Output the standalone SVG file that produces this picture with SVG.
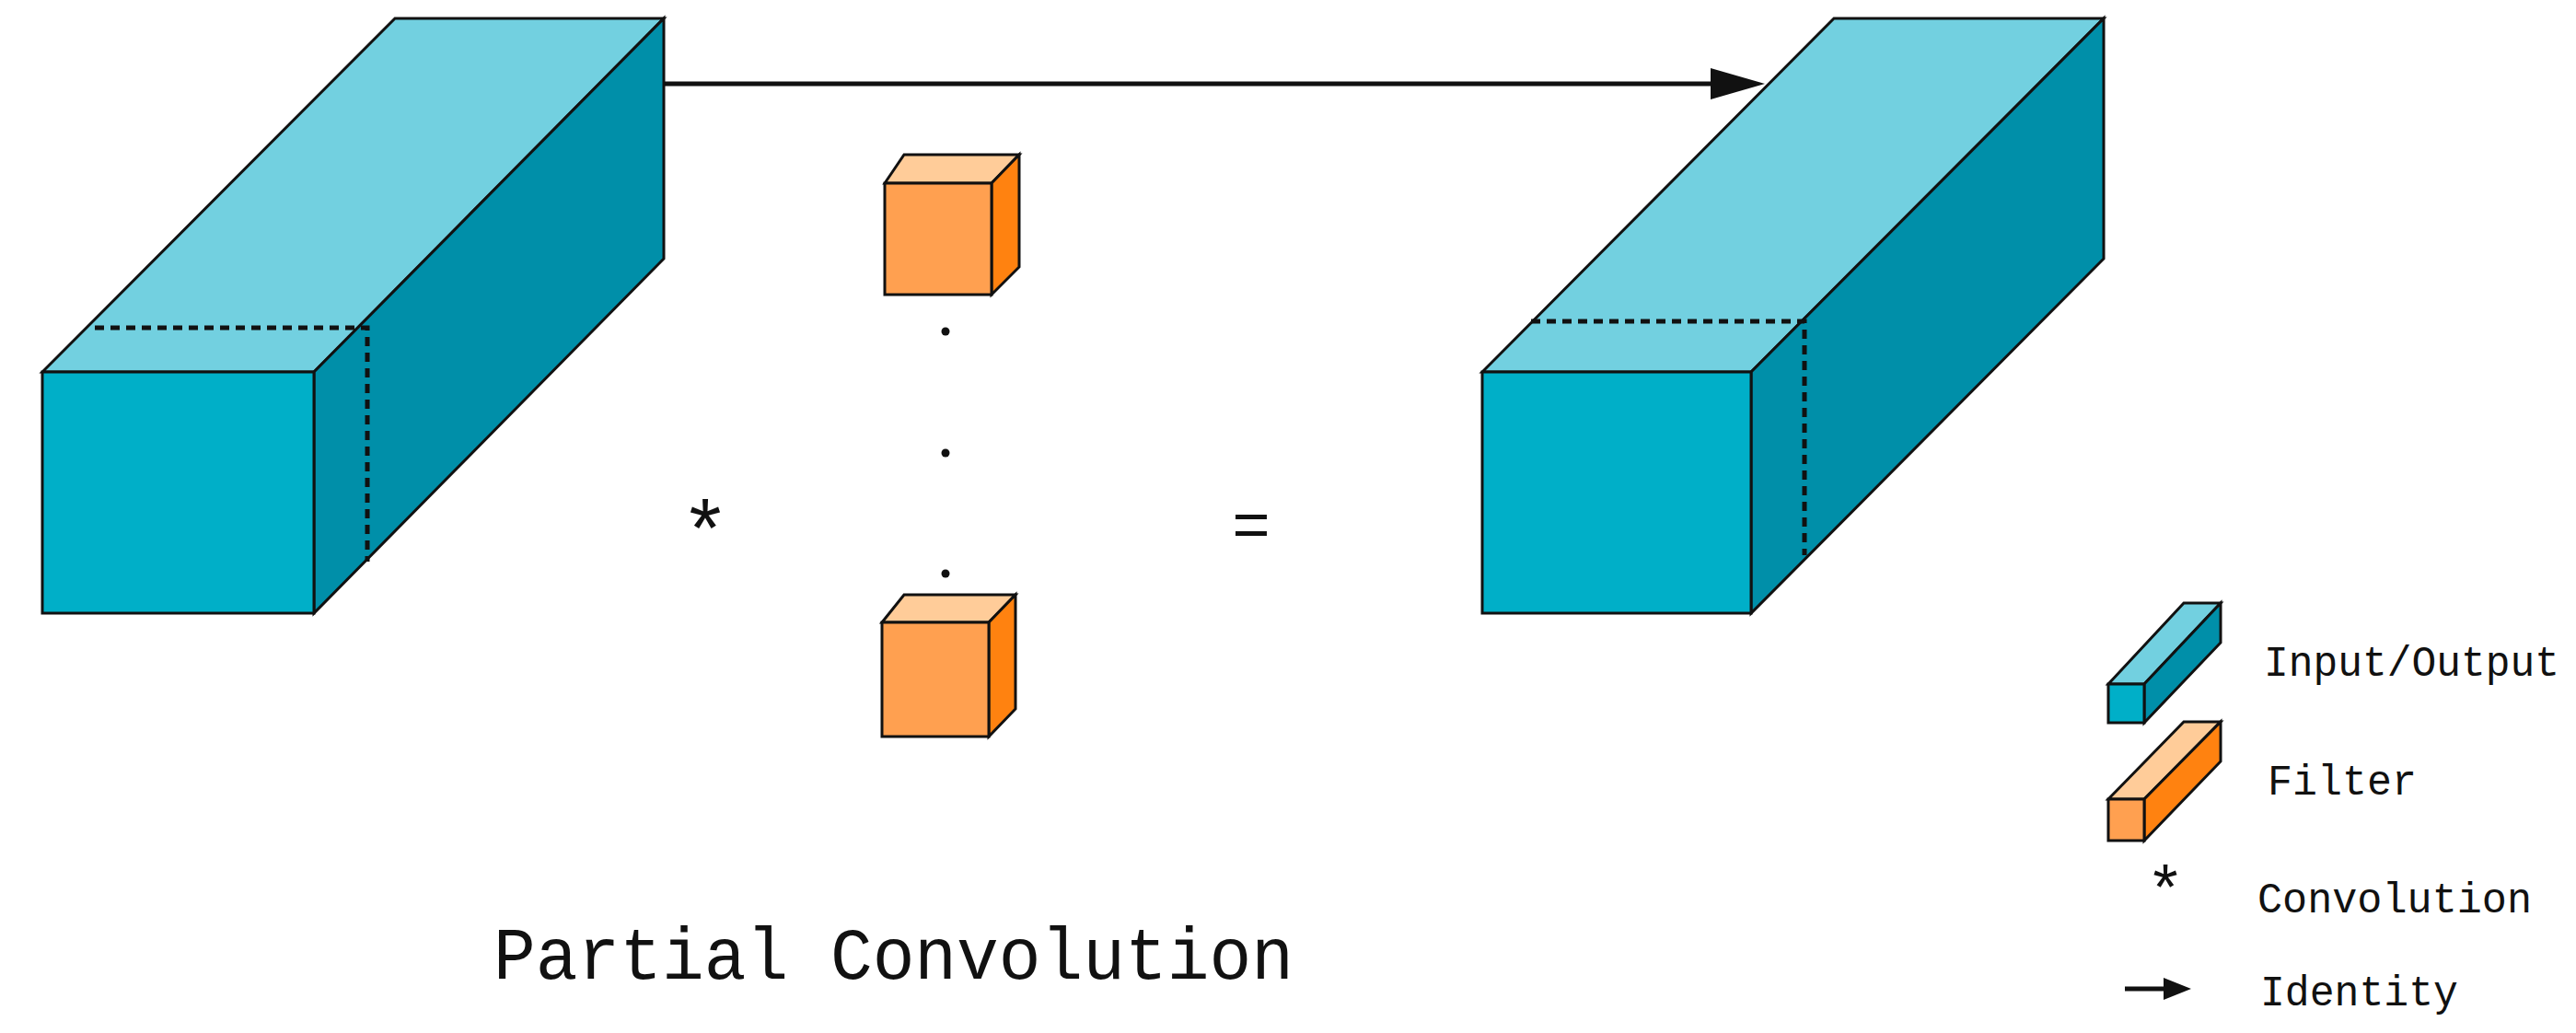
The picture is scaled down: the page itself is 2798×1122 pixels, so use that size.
<svg xmlns="http://www.w3.org/2000/svg" width="2798" height="1122" viewBox="0 0 2798 1122">
<defs>
<style>
.tc{fill:#72d0e0;stroke:#111;stroke-width:3}
.fc{fill:#00afc8;stroke:#111;stroke-width:3}
.sc{fill:#008fa9;stroke:#111;stroke-width:3}
.to{fill:#ffcc99;stroke:#111;stroke-width:3}
.fo{fill:#ffa050;stroke:#111;stroke-width:3}
.so{fill:#ff8210;stroke:#111;stroke-width:3}
.d{fill:none;stroke:#111;stroke-width:5;stroke-dasharray:10 7}
.t{font-family:"Liberation Mono",monospace;fill:#111}
</style>
<marker id="ah" markerWidth="10" markerHeight="8" refX="10" refY="4" orient="auto" markerUnits="userSpaceOnUse" viewBox="0 0 10 8"><path d="M0,0L10,4L0,8z" fill="#111"/></marker>
</defs>
<rect width="2798" height="1122" fill="#fff"/>
<g id="connectors">
<line x1="721" y1="91" x2="1860" y2="91" stroke="#111" stroke-width="5"/>
<path d="M1858,74L1917,91L1858,108z" fill="#111"/>
</g>
<g id="input">
<polygon class="tc" points="46,404 429,20 721,20 341,404"/>
<polygon class="sc" points="341,404 721,20 721,281 341,666"/>
<rect class="fc" x="46" y="404" width="295" height="262"/>
<polyline class="d" points="103,356 399,356 399,610"/>
</g>
<g id="output">
<polygon class="tc" points="1610,404 1992,20 2285,20 1902,404"/>
<polygon class="sc" points="1902,404 2285,20 2285,281 1902,666"/>
<rect class="fc" x="1610" y="404" width="292" height="262"/>
<polyline class="d" points="1663,349 1960,349 1960,603"/>
</g>
<g id="filter1">
<polygon class="to" points="961,199 982,168 1107,168 1077,199"/>
<polygon class="so" points="1077,199 1107,168 1107,290 1077,320"/>
<rect class="fo" x="961" y="199" width="116" height="121"/>
</g>
<g id="filter2">
<polygon class="to" points="958,676 982,646 1103,646 1074,676"/>
<polygon class="so" points="1074,676 1103,646 1103,770 1074,800"/>
<rect class="fo" x="958" y="676" width="116" height="124"/>
</g>
<g id="dots" fill="#111">
<circle cx="1027" cy="360" r="4.5"/><circle cx="1027" cy="492" r="4.5"/><circle cx="1027" cy="623" r="4.5"/>
</g>
<text class="t" x="766" y="608" font-size="90" text-anchor="middle">*</text>
<text class="t" x="1359" y="594" font-size="70" text-anchor="middle">=</text>
<text class="t" x="536" y="1063" font-size="80" textLength="869" lengthAdjust="spacingAndGlyphs">Partial Convolution</text>
<g id="legend">
<polygon class="tc" points="2290,743 2372,655 2412,655 2329,743"/>
<polygon class="sc" points="2329,743 2412,655 2412,698 2329,785"/>
<rect class="fc" x="2290" y="743" width="39" height="42"/>
<polygon class="to" points="2290,868 2372,784 2412,784 2329,868"/>
<polygon class="so" points="2329,868 2412,784 2412,827 2329,913"/>
<rect class="fo" x="2290" y="868" width="39" height="45"/>
<text class="t" x="2459" y="734" font-size="46" textLength="321" lengthAdjust="spacingAndGlyphs">Input/Output</text>
<text class="t" x="2463" y="863" font-size="46" textLength="162" lengthAdjust="spacingAndGlyphs">Filter</text>
<text class="t" x="2352" y="990" font-size="70" text-anchor="middle">*</text>
<text class="t" x="2452" y="991" font-size="46" textLength="298" lengthAdjust="spacingAndGlyphs">Convolution</text>
<line x1="2308" y1="1074" x2="2355" y2="1074" stroke="#111" stroke-width="5"/>
<path d="M2350,1062L2380,1074L2350,1086z" fill="#111"/>
<text class="t" x="2455" y="1092" font-size="46" textLength="215" lengthAdjust="spacingAndGlyphs">Identity</text>
</g>
</svg>
